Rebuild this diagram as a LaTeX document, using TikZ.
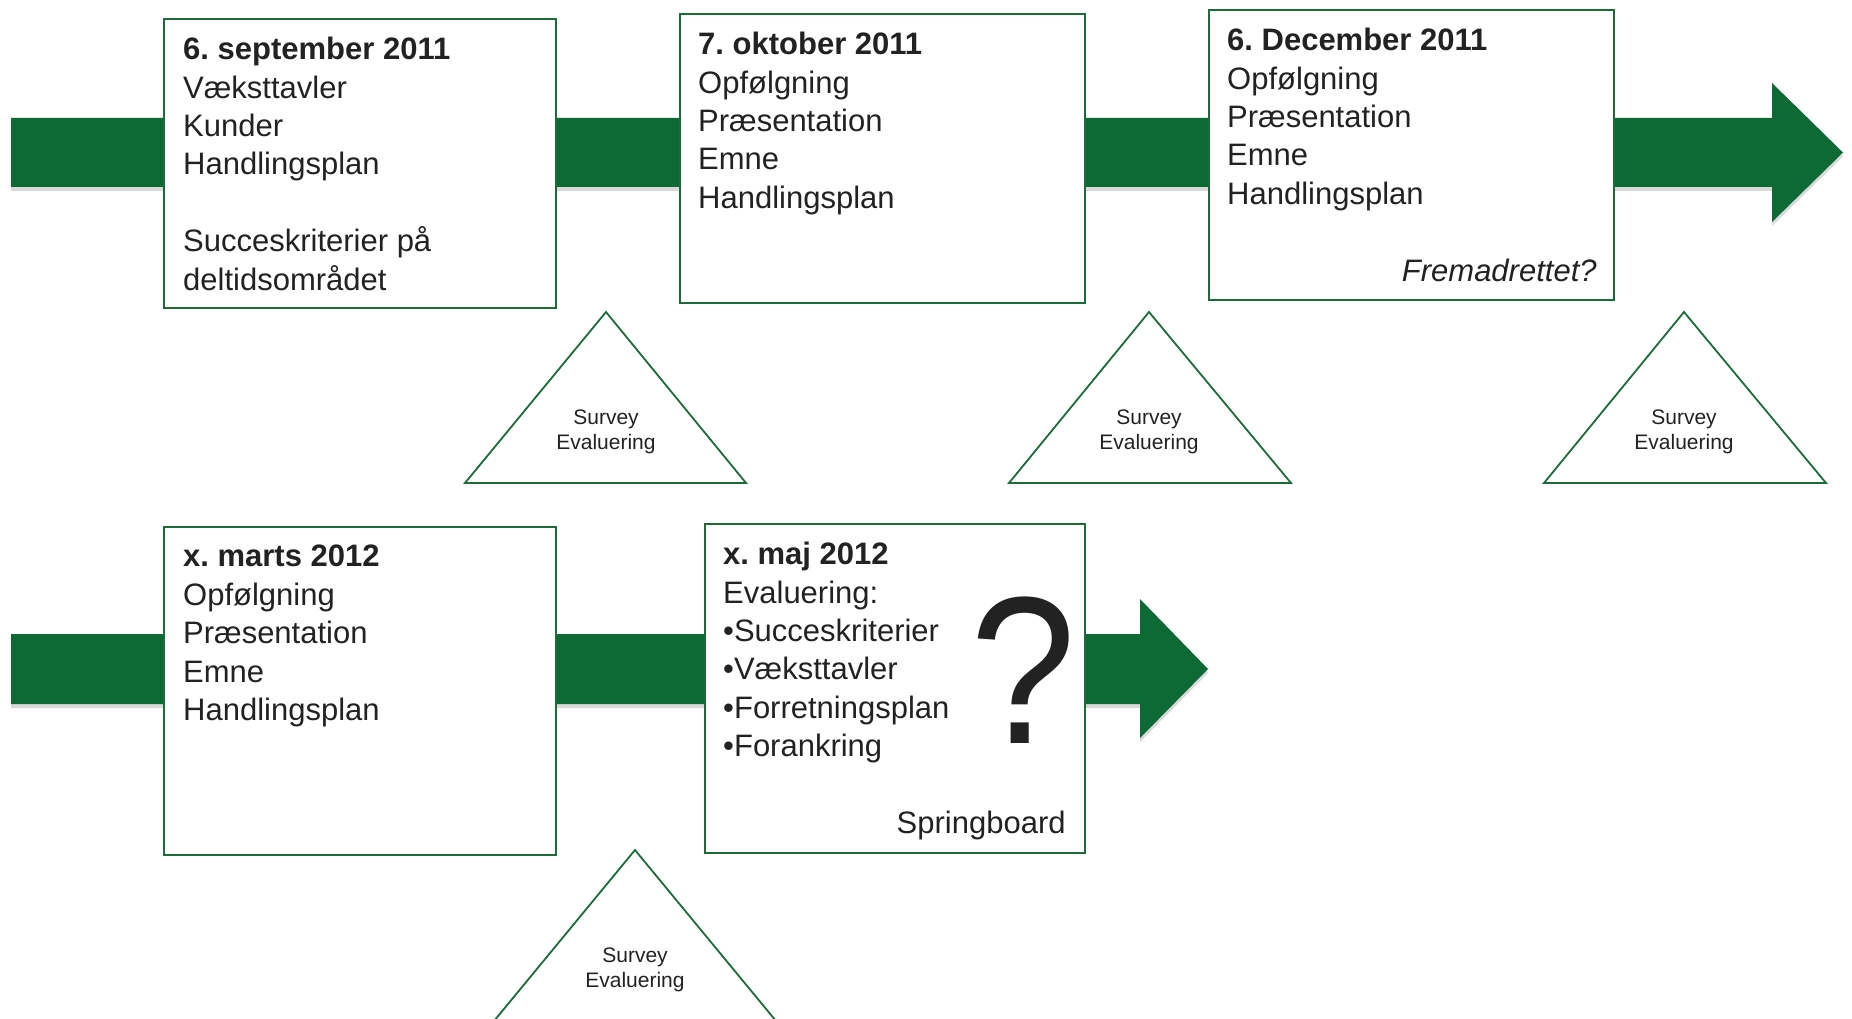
\documentclass[tikz,border=0pt]{standalone}
\usepackage{fontspec}
\setmainfont{Liberation Sans}
\usetikzlibrary{shadows}
\definecolor{arrowgreen}{HTML}{0E6A35}
\definecolor{boxgreen}{HTML}{1D6A3A}
\definecolor{txt}{HTML}{222222}
\frenchspacing
\begin{document}
\begin{tikzpicture}[x=1pt,y=-1pt,
  box/.style={draw=boxgreen, line width=1.8pt, fill=white, anchor=north west, inner sep=0pt},
  boxtext/.style={anchor=north west, inner sep=0pt, align=left, text=txt, font=\fontsize{31}{38.4}\selectfont},
  tri/.style={draw=boxgreen, line width=1.8pt, line join=miter},
  tritext/.style={align=center, text=txt, font=\fontsize{21}{25}\selectfont, inner sep=0pt},
  bigarrow/.style={fill=arrowgreen, drop shadow={opacity=0.3, shadow xshift=0pt, shadow yshift=-4pt}}]
\useasboundingbox (0,0) rectangle (1852,1019);
\clip (0,0) rectangle (1852,1019);

% arrows
\path[bigarrow] (11,118) -- (1772,118) -- (1772,83) -- (1843,152.5) -- (1772,222) -- (1772,187) -- (11,187) -- cycle;
\path[bigarrow] (11,634) -- (1140,634) -- (1140,599) -- (1208,669) -- (1140,738) -- (1140,704) -- (11,704) -- cycle;

% boxes
\node[box, minimum width=392pt, minimum height=289pt] (b1) at (163,18) {};
\node[box, minimum width=405pt, minimum height=289pt] (b2) at (679,13) {};
\node[box, minimum width=405pt, minimum height=290pt] (b3) at (1208,9) {};
\node[box, minimum width=392pt, minimum height=328pt] (b4) at (163,526) {};
\node[box, minimum width=380pt, minimum height=329pt] (b5) at (704,523) {};

% box texts
\node[boxtext] (t1) at ([shift={(20pt,-19pt)}]b1.north west)
  {\textbf{6. september 2011}\\Væksttavler\\Kunder\\Handlingsplan\\[38.4pt]Succeskriterier på\\deltidsområdet};
\node[boxtext] (t2) at ([shift={(19pt,-19pt)}]b2.north west)
  {\textbf{7. oktober 2011}\\Opfølgning\\Præsentation\\Emne\\Handlingsplan};
\node[boxtext] (t3) at ([shift={(19pt,-19pt)}]b3.north west)
  {\textbf{6. December 2011}\\Opfølgning\\Præsentation\\Emne\\Handlingsplan};
\node[boxtext, anchor=base east] (t3b) at ([shift={(-18pt,19pt)}]b3.south east) {\itshape Fremadrettet?};
\node[boxtext] (t4) at ([shift={(20pt,-19pt)}]b4.north west)
  {\textbf{x. marts 2012}\\Opfølgning\\Præsentation\\Emne\\Handlingsplan};
\node[boxtext] (t5) at ([shift={(19pt,-19pt)}]b5.north west)
  {\textbf{x. maj 2012}\\Evaluering:\\•Succeskriterier\\•Væksttavler\\•Forretningsplan\\•Forankring};
\node[boxtext, anchor=base east] (t5b) at ([shift={(-20pt,20pt)}]b5.south east) {Springboard};
\node[inner sep=0pt, text=txt, font=\fontsize{200}{200}\selectfont, xscale=0.95, yscale=1.05] (q) at (1023,670) {?};

% triangles
\draw[tri] (606,312) -- (746,483) -- (465,483) -- cycle;
\node[tritext] (s1) at (606,431.5) {Survey\\Evaluering};
\draw[tri] (1149,312) -- (1291,483) -- (1009,483) -- cycle;
\node[tritext] (s2) at (1149,431.5) {Survey\\Evaluering};
\draw[tri] (1684,312) -- (1826,483) -- (1544,483) -- cycle;
\node[tritext] (s3) at (1684,431.5) {Survey\\Evaluering};
\draw[tri] (635,850) -- (776,1021) -- (494,1021) -- cycle;
\node[tritext] (s4) at (635,969.5) {Survey\\Evaluering};
\end{tikzpicture}
\end{document}
